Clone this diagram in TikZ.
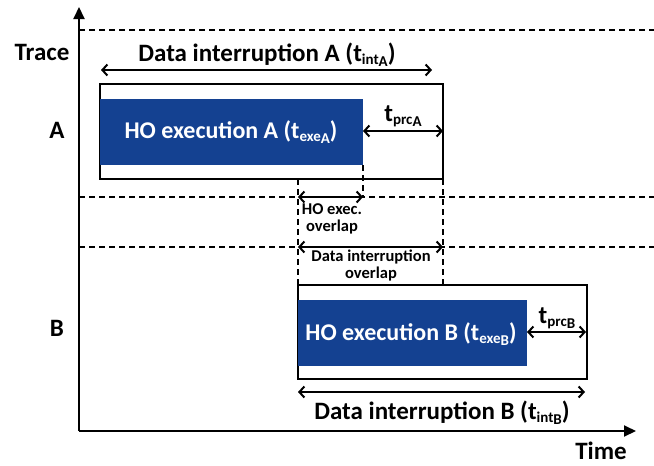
\documentclass[tikz,border=0pt]{standalone}
\usepackage{fontspec}
\setmainfont{Carlito}
\usetikzlibrary{arrows.meta}
\definecolor{hoblue}{RGB}{20,65,145}
\newcommand\tsub[2]{t{\fontsize{15}{15}\selectfont\raisebox{-3pt}{#1}\raisebox{-5pt}{#2}}}
\tikzset{
  lbl/.style={font=\fontsize{25}{27}\selectfont\bfseries, inner sep=0pt},
  holbl/.style={font=\fontsize{24}{26}\selectfont\bfseries, inner sep=0pt, text=white},
  small/.style={font=\fontsize{16.5}{17}\selectfont\bfseries, inner sep=0pt, align=center},
  dashline/.style={line width=1.3pt, dash pattern=on 6pt off 4pt},
  dim/.style={line width=2pt, {Straight Barb[length=5pt,width=11pt]}-{Straight Barb[length=5pt,width=11pt]}},
  axis/.style={line width=2pt, -{Triangle[length=12pt,width=11pt]}},
  framebox/.style={draw, line width=1.6pt, fill=white},
  bluebar/.style={fill=hoblue, draw=none}
}
\begin{document}
\begin{tikzpicture}[x=1pt,y=-1pt]
\useasboundingbox (0,0) rectangle (654,466);
% dashed horizontals
\draw[dashline] (79,30) -- (654,30);
\draw[dashline] (79,197) -- (654,197);
\draw[dashline] (79,247) -- (654,247);
% boxes
\draw[framebox] (100,84) rectangle (443,179);
\fill[bluebar] (100,99) rectangle (363,165);
\draw[framebox] (298,285) rectangle (587,379);
\fill[bluebar] (298,300) rectangle (527,366);
% dashed verticals
\coordinate (v1t) at (298,179); \coordinate (v1b) at (298,285);
\coordinate (v2t) at (363,165); \coordinate (v2b) at (363,197);
\coordinate (v3t) at (443,179); \coordinate (v3b) at (443,285);
\draw[dashline] (v1t) -- (v1b);
\draw[dashline] (v2t) -- (v2b);
\draw[dashline] (v3t) -- (v3b);
% axes
\coordinate (O) at (79,431);
\coordinate (yend) at (79,7);
\coordinate (xend) at (636,431);
\draw[axis] (O) -- (yend);
\draw[axis] (O) -- (xend);
% labels
\node[lbl] (trace) at (42,52) {Trace};
\node[lbl] (la) at (57,130) {A};
\node[lbl] (lb) at (57,328) {B};
\node[lbl] (time) at (601,451) {Time};
% data interruption A
\coordinate (diA1) at (101,70); \coordinate (diA2) at (432,70);
\draw[dim] (diA1) -- (diA2);
\node[lbl, anchor=base] (diAt) at (267,61) {Data interruption A (\tsub{int}{A})};
% HO exec A
\node[holbl, anchor=base] (hoA) at (231,138) {HO execution A (\tsub{exe}{A})};
% tprc A
\coordinate (pA1) at (363,131); \coordinate (pA2) at (443,131);
\draw[dim] (pA1) -- (pA2);
\node[lbl] (pAt) at (403,116) {\tsub{prc}{A}};
% overlaps
\coordinate (o1a) at (298,197); \coordinate (o1b) at (363,197);
\draw[dim] (o1a) -- (o1b);
\node[small] (o1t) at (332,219) {HO exec.\\overlap};
\coordinate (o2a) at (298,247); \coordinate (o2b) at (443,247);
\draw[dim] (o2a) -- (o2b);
\node[small] (o2t) at (371,265) {Data interruption\\overlap};
% HO exec B
\node[holbl, anchor=base] (hoB) at (411,340) {HO execution B (\tsub{exe}{B})};
\coordinate (pB1) at (527,332); \coordinate (pB2) at (586,332);
\draw[dim] (pB1) -- (pB2);
\node[lbl] (pBt) at (557,318) {\tsub{prc}{B}};
% data interruption B
\coordinate (diB1) at (298,392); \coordinate (diB2) at (585,392);
\draw[dim] (diB1) -- (diB2);
\node[lbl, anchor=base] (diBt) at (442,419) {Data interruption B (\tsub{int}{B})};
\end{tikzpicture}
\end{document}
